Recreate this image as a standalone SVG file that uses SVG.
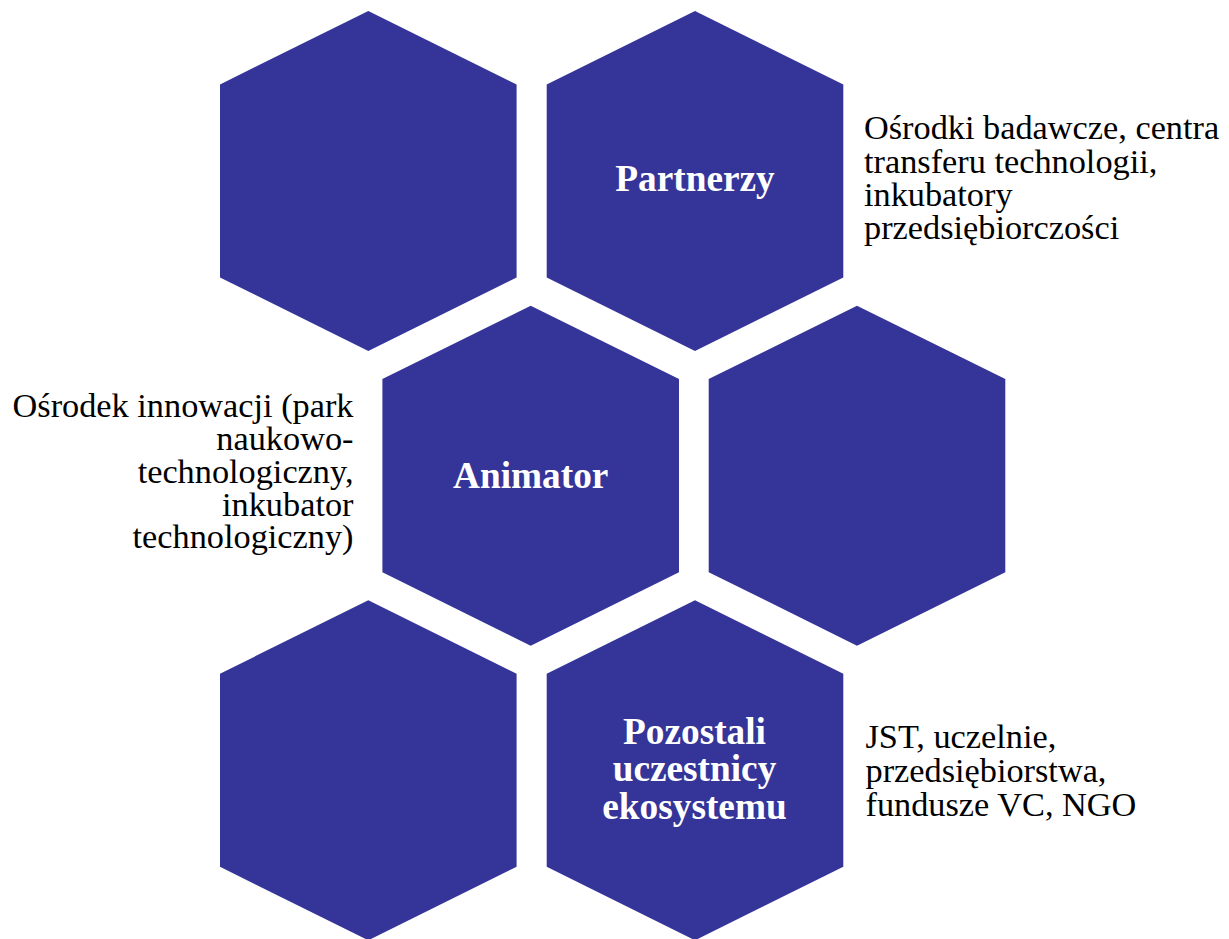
<svg xmlns="http://www.w3.org/2000/svg" xmlns:xlink="http://www.w3.org/1999/xlink" width="1229" height="939" viewBox="0 0 1229 939">
<style>
.hex{fill:#353599}
.lbl{font-family:"Liberation Serif","Times New Roman",serif;font-weight:bold;font-size:37.3px;fill:#ffffff;text-anchor:middle}
.desc{font-family:"Liberation Serif","Times New Roman",serif;font-size:34.3px;fill:#000000}
</style>
<defs>
<polygon id="hexshape" points="0,0 148.3,73.4 148.3,266.5 0,340 -148.3,266.5 -148.3,73.4"/>
</defs>
<rect width="1229" height="939" fill="#ffffff"/>
<g id="connectors"></g>
<g id="hex-top-left"><use xlink:href="#hexshape" class="hex" x="368.3" y="11"/></g>
<g id="hex-partnerzy"><use xlink:href="#hexshape" class="hex" x="695" y="11"/>
<text class="lbl" x="695" y="191">Partnerzy</text></g>
<g id="hex-animator"><use xlink:href="#hexshape" class="hex" x="530.7" y="305.7"/>
<text class="lbl" x="530.7" y="488">Animator</text></g>
<g id="hex-mid-right"><use xlink:href="#hexshape" class="hex" x="857" y="305.7"/></g>
<g id="hex-bottom-left"><use xlink:href="#hexshape" class="hex" x="368.3" y="600.3"/></g>
<g id="hex-pozostali"><use xlink:href="#hexshape" class="hex" x="695" y="600.3"/>
<text class="lbl" x="694.5" y="743.5">Pozostali</text>
<text class="lbl" x="694.5" y="781.3">uczestnicy</text>
<text class="lbl" x="694.5" y="819">ekosystemu</text></g>
<g id="desc-partnerzy">
<text class="desc" x="864" y="139.3">Ośrodki badawcze, centra</text>
<text class="desc" x="864" y="172.6">transferu technologii,</text>
<text class="desc" x="864" y="205.9">inkubatory</text>
<text class="desc" x="864" y="239.2">przedsiębiorczości</text>
</g>
<g id="desc-animator" text-anchor="end">
<text class="desc" x="353.5" y="417.3">Ośrodek innowacji (park</text>
<text class="desc" x="353.5" y="450">naukowo-</text>
<text class="desc" x="353.5" y="482.8">technologiczny,</text>
<text class="desc" x="353.5" y="515.5">inkubator</text>
<text class="desc" x="353.5" y="548.3">technologiczny)</text>
</g>
<g id="desc-pozostali">
<text class="desc" x="865.5" y="747.5">JST, uczelnie,</text>
<text class="desc" x="865.5" y="781.5">przedsiębiorstwa,</text>
<text class="desc" x="865.5" y="815.5">fundusze VC, NGO</text>
</g>
</svg>
